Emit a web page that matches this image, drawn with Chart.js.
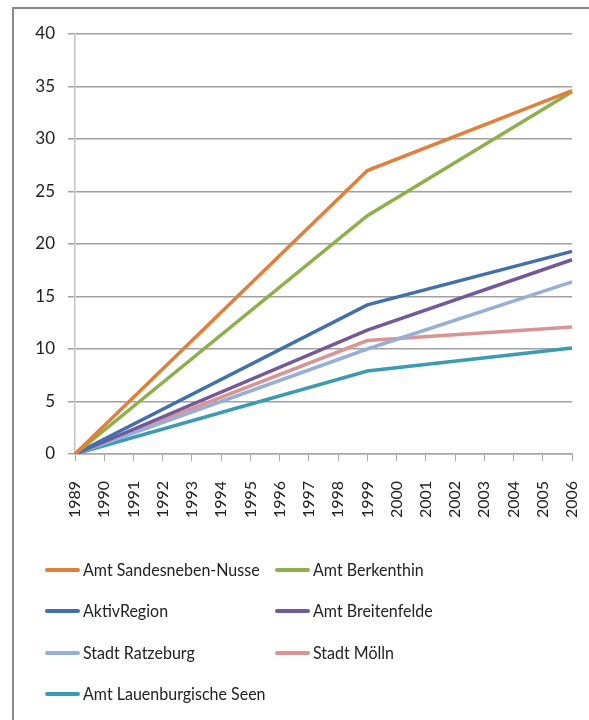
<!DOCTYPE html>
<html>
<head>
<meta charset="utf-8">
<script src="https://cdn.jsdelivr.net/npm/chart.js@4"></script>
<style>
  body { margin: 0; background: #fff; width: 589px; height: 720px; overflow: hidden; position: relative; font-family: Lato, "Noto Sans", sans-serif; }
  #frame { position: absolute; left: 12px; top: 7px; width: 640px; height: 760px; border-top: 2px solid #8a8a8a; border-left: 2px solid #8a8a8a; }
  #chartBox { position: absolute; left: 0; top: 0; }
  #legend { position: absolute; left: 0; top: 0; width: 589px; height: 720px; }
  .swatch { position: absolute; width: 35px; height: 4px; border-radius: 2px; }
  .label { position: absolute; font-size: 18px; line-height: 22px; color: #222; white-space: nowrap; transform: scaleX(0.89); transform-origin: left center; }
</style>
</head>
<body>
<div id="frame"></div>
<div id="chartBox"><canvas id="myChart" width="589" height="530"></canvas></div>
<div id="legend"></div>
<script>
const years = ['1989', '1990', '1991', '1992', '1993', '1994', '1995', '1996', '1997',
  '1998', '1999', '2000', '2001', '2002', '2003', '2004', '2005', '2006'];
const pointYears = ['1989', '1999', '2006'];

const seriesNames = ['Amt Sandesneben-Nusse', 'Amt Berkenthin', 'AktivRegion', 'Amt Breitenfelde',
  'Stadt Ratzeburg', 'Stadt Mölln', 'Amt Lauenburgische Seen'];

const sandesneben = [0, 27.0, 34.6];
const berkenthin = [0, 22.7, 34.5];
const aktivRegion = [0, 14.2, 19.3];
const breitenfelde = [0, 11.8, 18.5];
const ratzeburg = [0, 10.0, 16.4];
const moelln = [0, 10.8, 12.1];
const lauenburgSeen = [0, 7.9, 10.1];

const yTicks = [0, 5, 10, 15, 20, 25, 30, 35, 40];

const colors = ['#e27f3b', '#8cb04a', '#4170ad', '#74599a', '#95b0d8', '#d99493', '#3b9bb3'];
const allValues = [sandesneben, berkenthin, aktivRegion, breitenfelde, ratzeburg, moelln, lauenburgSeen];

const datasets = allValues.map((vals, i) => ({
  label: seriesNames[i],
  data: vals.map((v, j) => ({ x: pointYears[j], y: v })),
  borderColor: colors[i],
  backgroundColor: colors[i],
  borderWidth: 3.5,
  pointRadius: 0,
  tension: 0,
  spanGaps: true,
  order: i
}));

const fontFamily = 'Lato, "Noto Sans", sans-serif';

const chart = new Chart(document.getElementById('myChart').getContext('2d'), {
  type: 'line',
  data: { labels: years, datasets: datasets },
  options: {
    responsive: false,
    animation: false,
    layout: { padding: { top: 34, right: 17, bottom: 0, left: 0 } },
    plugins: { legend: { display: false }, tooltip: { enabled: false } },
    scales: {
      x: {
        type: 'category',
        offset: false,
        grid: { drawOnChartArea: false, drawTicks: true, tickLength: 7, color: '#a8a8a8' },
        border: { color: '#a8a8a8', width: 1.5 },
        ticks: { minRotation: 90, maxRotation: 90, padding: 20, color: '#222', font: { family: fontFamily, size: 16 }, autoSkip: false },
        afterFit: s => { s.height = 76; s.paddingLeft = 0; s.paddingRight = 0; }
      },
      y: {
        min: 0,
        max: 40,
        afterBuildTicks: s => { s.ticks = yTicks.map(v => ({ value: v })); },
        grid: { color: '#a0a0a0', lineWidth: 1.5, tickLength: 7 },
        border: { color: '#c4c4c4', width: 1.5 },
        ticks: { padding: 13, color: '#222', font: { family: fontFamily, size: 17 } },
        afterFit: s => { s.width = 75; }
      }
    }
  }
});

// legend in two columns, built from the chart's datasets
const legendBox = document.getElementById('legend');
const colX = [45, 275];
const rowY = [570, 611, 653, 694];
chart.data.datasets.forEach((d, i) => {
  const x = colX[i % 2];
  const y = rowY[Math.floor(i / 2)];
  const sw = document.createElement('div');
  sw.className = 'swatch';
  sw.style.left = x + 'px';
  sw.style.top = (y - 2) + 'px';
  sw.style.background = d.borderColor;
  legendBox.appendChild(sw);
  const lab = document.createElement('div');
  lab.className = 'label';
  lab.style.left = (x + 38) + 'px';
  lab.style.top = (y - 12) + 'px';
  lab.textContent = d.label;
  legendBox.appendChild(lab);
});
</script>
</body>
</html>
